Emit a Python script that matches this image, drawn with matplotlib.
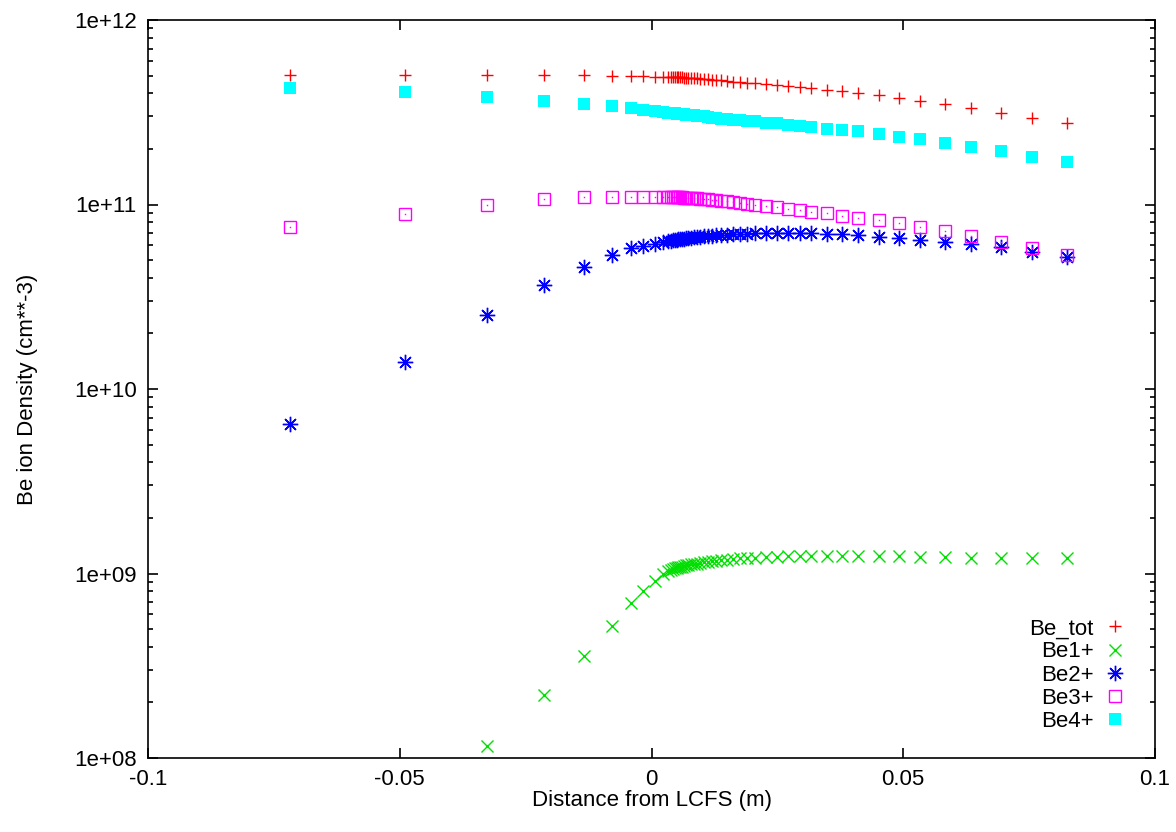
import matplotlib
matplotlib.use('Agg')
import matplotlib.pyplot as plt
from matplotlib.ticker import FixedLocator, FuncFormatter, LogLocator, NullFormatter
import numpy as np

plt.rcParams['font.family'] = ['Liberation Sans', 'DejaVu Sans']

# ── Data ────────────────────────────────────────────────────────────────────
dist = np.array([
    -0.0718, -0.0490, -0.0327, -0.0214, -0.0135, -0.0079, -0.0040, -0.0016,
    0.0006, 0.0022, 0.0032, 0.0038, 0.0043, 0.0047, 0.0050, 0.0053,
    0.0056, 0.0060, 0.0064, 0.0069, 0.0073, 0.0079, 0.0084, 0.0091,
    0.0097, 0.0105, 0.0113, 0.0120, 0.0129, 0.0138, 0.0149, 0.0161,
    0.0175, 0.0190, 0.0206, 0.0228, 0.0249, 0.0271, 0.0294, 0.0317,
    0.0349, 0.0378, 0.0411, 0.0451, 0.0491, 0.0534, 0.0583, 0.0635,
    0.0694, 0.0756, 0.0825])

be_tot = np.array([
    5.05, 5.05, 5.04, 5.03, 5.01, 4.99, 4.97, 4.96,
    4.94, 4.93, 4.92, 4.91, 4.91, 4.90, 4.90, 4.89,
    4.89, 4.88, 4.87, 4.86, 4.85, 4.84, 4.83, 4.82,
    4.80, 4.78, 4.76, 4.74, 4.72, 4.70, 4.67, 4.64,
    4.61, 4.57, 4.53, 4.48, 4.43, 4.38, 4.33, 4.28,
    4.20, 4.12, 4.03, 3.90, 3.79, 3.65, 3.49, 3.35,
    3.15, 2.95, 2.75]) * 1e11

be1 = np.array([
    0.3, 0.6, 1.16, 2.20, 3.57, 5.19, 6.90, 8.07,
    9.14, 10.0, 10.3, 10.45, 10.55, 10.65, 10.7, 10.8,
    10.85, 10.9, 11.0, 11.05, 11.1, 11.2, 11.25, 11.3,
    11.4, 11.5, 11.6, 11.65, 11.7, 11.8, 11.9, 12.0,
    12.1, 12.15, 12.2, 12.3, 12.35, 12.4, 12.45, 12.5,
    12.5, 12.5, 12.5, 12.45, 12.4, 12.35, 12.3, 12.2,
    12.15, 12.1, 12.1]) * 1e8

be2 = np.array([
    0.646, 1.40, 2.52, 3.66, 4.58, 5.32, 5.79, 5.98,
    6.11, 6.25, 6.32, 6.37, 6.40, 6.43, 6.45, 6.47,
    6.49, 6.51, 6.54, 6.56, 6.58, 6.61, 6.63, 6.66,
    6.69, 6.72, 6.75, 6.78, 6.81, 6.84, 6.87, 6.90,
    6.93, 6.96, 6.98, 6.99, 7.00, 7.00, 6.99, 6.97,
    6.94, 6.88, 6.82, 6.69, 6.61, 6.42, 6.29, 6.09,
    5.86, 5.55, 5.21]) * 1e10

be3 = np.array([
    7.58, 8.85, 10.0, 10.7, 11.0, 11.0, 11.0, 11.0,
    10.98, 10.97, 10.96, 10.95, 10.95, 10.94, 10.94, 10.93,
    10.93, 10.92, 10.91, 10.90, 10.89, 10.87, 10.85, 10.80,
    10.75, 10.70, 10.65, 10.60, 10.55, 10.50, 10.40, 10.30,
    10.20, 10.10, 9.95, 9.80, 9.65, 9.50, 9.33, 9.14,
    8.96, 8.69, 8.50, 8.21, 7.91, 7.58, 7.16, 6.75,
    6.29, 5.79, 5.32]) * 1e10

be4 = np.array([
    4.26, 4.06, 3.81, 3.63, 3.49, 3.40, 3.32, 3.26,
    3.20, 3.17, 3.15, 3.14, 3.13, 3.12, 3.11, 3.10,
    3.10, 3.09, 3.08, 3.07, 3.06, 3.05, 3.04, 3.03,
    3.02, 3.00, 2.98, 2.96, 2.94, 2.92, 2.90, 2.88,
    2.86, 2.84, 2.82, 2.78, 2.75, 2.71, 2.68, 2.63,
    2.58, 2.54, 2.49, 2.40, 2.31, 2.26, 2.15, 2.04,
    1.94, 1.82, 1.69]) * 1e11

xticks = [-0.1, -0.05, 0, 0.05, 0.1]
xtick_labels = ['-0.1', '-0.05', '0', '0.05', '0.1']
yticks = [1e8, 1e9, 1e10, 1e11, 1e12]
ytick_labels = ['1e+08', '1e+09', '1e+10', '1e+11', '1e+12']

fig = plt.figure(figsize=(11.76, 8.32), dpi=100)
ax = fig.add_axes([148 / 1176, 1 - 758 / 832, (1155 - 148) / 1176, (758 - 20) / 832])

ms = 8.5
mew = 1.0
ax.plot(dist, be_tot, linestyle='none', marker='+', color='#ff0000',
        markersize=ms, markeredgewidth=mew, label='Be_tot')
ax.plot(dist, be1, linestyle='none', marker='x', color='#00e000',
        markersize=ms * 0.95, markeredgewidth=mew, label='Be1+')
ax.plot(dist, be2, linestyle='none', marker=(8, 2, 0), color='#0000ff',
        markersize=ms * 1.3, markeredgewidth=mew, label='Be2+')
ax.plot(dist, be3, linestyle='none', marker='s', markerfacecolor='none',
        markeredgecolor='#ff00ff', markersize=ms * 0.95, markeredgewidth=mew,
        label='Be3+')
ax.plot(dist, be3, linestyle='none', marker='s', color='#ff00ff',
        markersize=1.0, markeredgewidth=0)
ax.plot(dist, be4, linestyle='none', marker='s', color='#00ffff',
        markersize=ms * 0.95, markeredgewidth=0, label='Be4+')

ax.set_yscale('log')
ax.set_xlim(-0.1, 0.1)
ax.set_ylim(1e8, 1e12)

ax.xaxis.set_major_locator(FixedLocator(xticks))
ax.xaxis.set_major_formatter(FuncFormatter(lambda v, p: xtick_labels[xticks.index(round(v, 2))]
                                           if round(v, 2) in xticks else ''))
ax.yaxis.set_major_locator(FixedLocator(yticks))
ax.set_yticklabels(ytick_labels)
ax.yaxis.set_minor_locator(LogLocator(base=10, subs=np.arange(2, 10), numticks=20))
ax.yaxis.set_minor_formatter(NullFormatter())

ax.tick_params(which='both', direction='in', top=True, right=True,
               labelsize=16, width=1.2)
ax.tick_params(which='major', length=7, pad=8)
ax.tick_params(which='minor', length=3.5)
for s in ax.spines.values():
    s.set_linewidth(1.2)

ax.set_xlabel('Distance from LCFS (m)', fontsize=16, labelpad=0)
ax.set_ylabel('Be ion Density (cm**-3)', fontsize=16, labelpad=26)

ax.legend(loc='lower right', bbox_to_anchor=(0.980, 0.023), frameon=False,
          markerfirst=False, fontsize=16, handlelength=1.0, handletextpad=0.45,
          labelspacing=0.1, borderaxespad=0)

fig.savefig('out.png', dpi=100)
